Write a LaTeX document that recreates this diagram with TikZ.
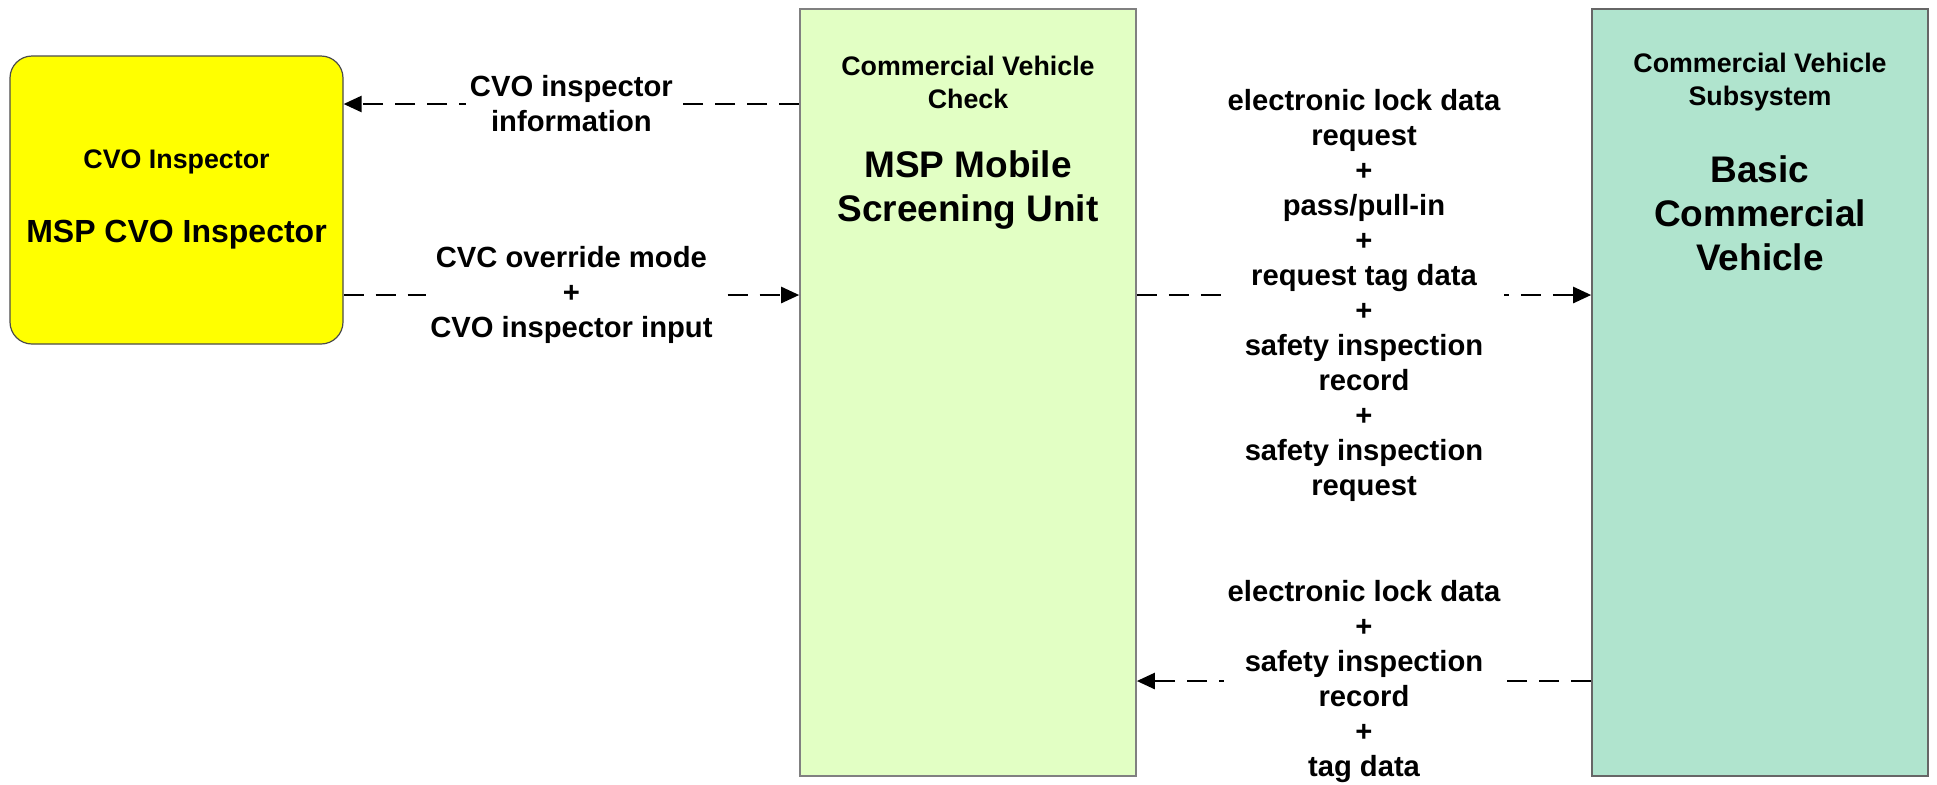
\documentclass[tikz,border=0pt]{standalone}
\usepackage{fontspec}
\setmainfont{Liberation Sans}
\usetikzlibrary{arrows.meta}

\definecolor{inspyellow}{RGB}{255,255,0}
\definecolor{chkgreen}{RGB}{226,255,196}
\definecolor{vehteal}{RGB}{176,228,206}

\begin{document}
\begin{tikzpicture}
        [x=0.5pt, y=-0.5pt,
        terminator/.style={draw=black!70, line width=0.6pt, fill=inspyellow, rounded corners=11pt, minimum width=166.5pt, minimum height=144pt},
        subsystem/.style={draw=gray, line width=0.8pt, minimum width=168pt, minimum height=383.5pt},
        smalltitle/.style={align=center, font=\fontsize{13.4}{16.5}\selectfont\bfseries},
        bigtitle/.style={align=center, font=\fontsize{18.5}{22}\selectfont\bfseries},
        flow/.style={line width=1.25pt, dash pattern=on 10pt off 6pt, -{Triangle[length=9pt,width=8pt]}},
        flowlabel/.style={fill=white, inner sep=2pt, align=center, font=\fontsize{14.6}{17.5}\selectfont\bfseries}]

        \useasboundingbox (0,0) rectangle (1937,784);

        % the three boxes
        \node[terminator] (insp) at (176.5,200) {};
        \node[subsystem, fill=chkgreen] (chk) at (968,392.5) {};
        \node[subsystem, fill=vehteal, draw=black!60] (veh) at (1760,392.5) {};

        % box titles
        \node[smalltitle] (inspsmall) at (176.5,162) {CVO Inspector};
        \node[align=center, font=\fontsize{16}{19}\selectfont\bfseries] (inspname) at (176.5,235) {MSP CVO Inspector};
        \node[smalltitle] (chksmall) at (968,82) {Commercial Vehicle\\Check};
        \node[bigtitle] (chkname) at (968,190.5) {MSP Mobile\\Screening Unit};
        \node[smalltitle] (vehsmall) at (1760,82) {Commercial Vehicle\\Subsystem};
        \node[bigtitle] (vehname) at (1760,213) {Basic\\Commercial\\Vehicle};

        % heights of the flows
        \coordinate (infolevel) at (572,104);
        \coordinate (midlevel) at (572,295);
        \coordinate (lowlevel) at (1360,681);

        % flows between the boxes
        \draw[flow] (chk.west |- infolevel) -- (insp.east |- infolevel)
            node[flowlabel, midway] (infolabel) {CVO inspector\\information};
        \draw[flow] (insp.east |- midlevel) -- (chk.west |- midlevel)
            node[flowlabel, midway] (modelabel) {CVC override mode\\+\\CVO inspector input};
        \draw[flow] (chk.east |- midlevel) -- (veh.west |- midlevel)
            node[flowlabel, midway] (requestlabel) {electronic lock data\\request\\+\\pass/pull-in\\+\\request tag data\\+\\safety inspection\\record\\+\\safety inspection\\request};
        \draw[flow] (veh.west |- lowlevel) -- (chk.east |- lowlevel)
            node[flowlabel, midway] (recordlabel) {electronic lock data\\+\\safety inspection\\record\\+\\tag data};

\end{tikzpicture}
\end{document}
